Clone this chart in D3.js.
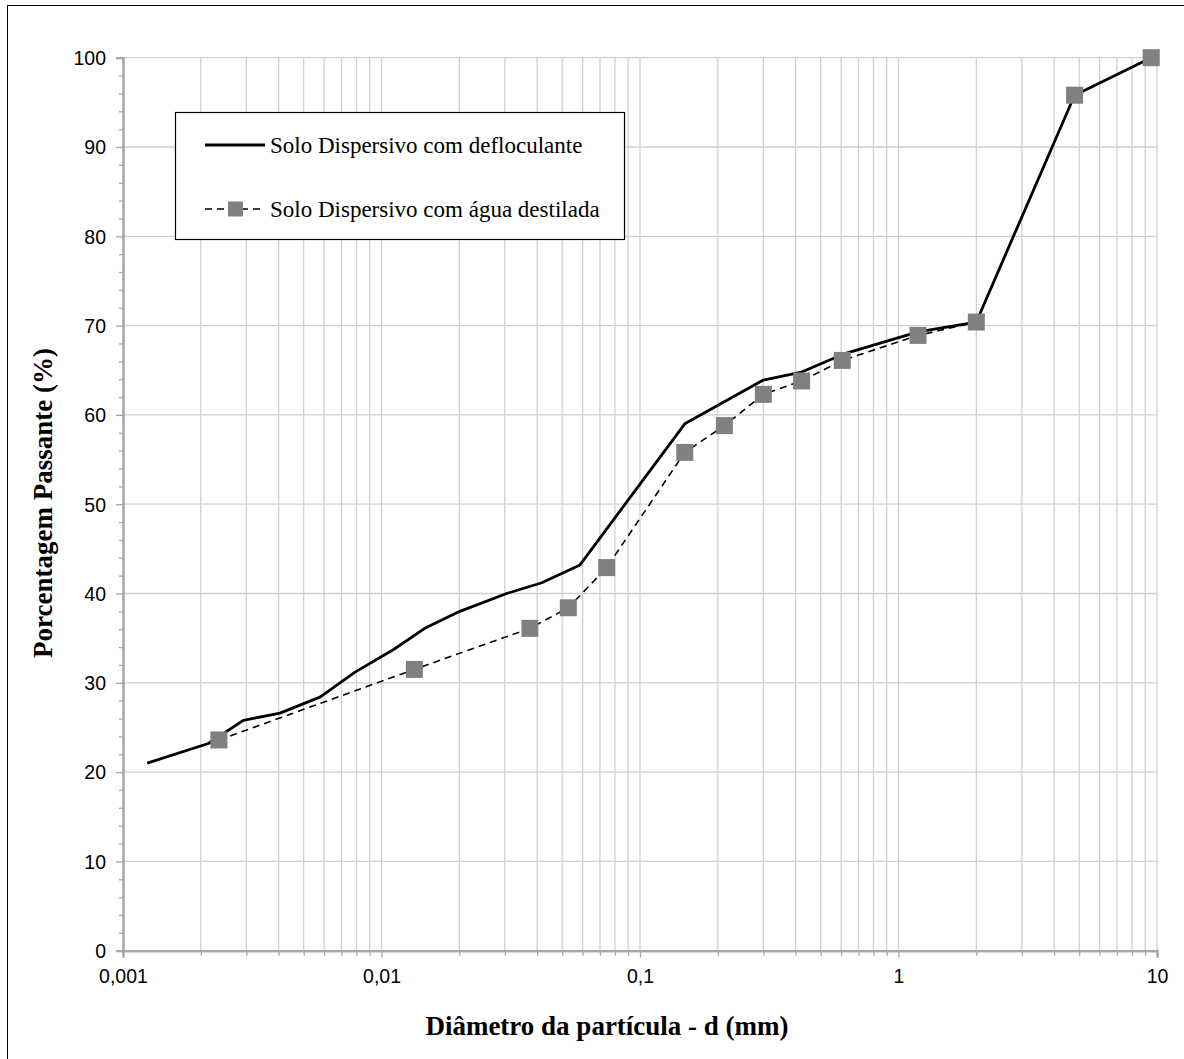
<!DOCTYPE html>
<html>
<head>
<meta charset="utf-8">
<script src="https://cdn.jsdelivr.net/npm/d3@7"></script>
<style>
  html, body { margin: 0; padding: 0; background: #fff; }
  svg { display: block; }
</style>
</head>
<body>
<svg id="chart" width="1184" height="1059"></svg>
<script>
// Grain-size distribution: percent passing vs particle diameter (mm)
const seriesNames = ["Solo Dispersivo com defloculante", "Solo Dispersivo com água destilada"];

// With deflocculant (solid line, no markers)
const deflDiam = [0.00124, 0.00214, 0.00292, 0.00405, 0.00578, 0.0079, 0.0111, 0.0147, 0.0201, 0.0305, 0.0417, 0.0586, 0.149, 0.300, 0.422, 0.611, 1.19, 2.0, 4.8, 9.5];
const deflPass = [21.0, 23.2, 25.8, 26.6, 28.4, 31.2, 33.7, 36.1, 38.0, 40.0, 41.2, 43.2, 59.0, 63.9, 64.8, 66.8, 69.3, 70.4, 95.8, 100];

// With distilled water (dashed line, square markers)
const aguaDiam = [0.00235, 0.0134, 0.0375, 0.0528, 0.0743, 0.149, 0.212, 0.300, 0.422, 0.606, 1.19, 2.0, 4.8, 9.5];
const aguaPass = [23.6, 31.5, 36.1, 38.4, 42.9, 55.8, 58.8, 62.3, 63.8, 66.1, 68.9, 70.4, 95.8, 100];

const xTickValues = [0.001, 0.01, 0.1, 1, 10];
const xTickLabels = ["0,001", "0,01", "0,1", "1", "10"];
const yTickValues = [0, 10, 20, 30, 40, 50, 60, 70, 80, 90, 100];

const svg = d3.select("#chart");
const W = 1184, H = 1059;
const m = { left: 123, right: 1157, top: 57.7, bottom: 950.7 };

// outer frame
svg.append("rect").attr("x", 7.5).attr("y", 5.5).attr("width", W + 10).attr("height", H + 10)
  .attr("fill", "none").attr("stroke", "#000").attr("stroke-width", 1);

const x = d3.scaleLog().domain([0.001, 10]).range([m.left, m.right]);
const y = d3.scaleLinear().domain([0, 100]).range([m.bottom, m.top]);

// minor log positions (2..9 in each decade)
const minorX = [];
for (let e = -3; e < 1; e++) for (let k = 2; k <= 9; k++) minorX.push(k * Math.pow(10, e));
const minorY = d3.range(0, 101, 2).filter(v => v % 10 !== 0);

const grid = svg.append("g");
grid.selectAll("line.vx").data(minorX.concat(xTickValues.slice(1))).join("line")
  .attr("x1", d => x(d)).attr("x2", d => x(d)).attr("y1", m.top).attr("y2", m.bottom)
  .attr("stroke", "#d0d0d0").attr("stroke-width", 1.3);
grid.selectAll("line.hy").data(yTickValues.slice(1)).join("line")
  .attr("x1", m.left).attr("x2", m.right).attr("y1", d => y(d)).attr("y2", d => y(d))
  .attr("stroke", "#d0d0d0").attr("stroke-width", 1.3);

// axes
const axisColor = "#a6a6a6";
const xAxisMajor = d3.axisBottom(x).tickValues(xTickValues).tickSize(7)
  .tickFormat((d, i) => xTickLabels[i]).tickPadding(14);
const gx = svg.append("g").attr("transform", `translate(0,${m.bottom})`).call(xAxisMajor);
const gxm = svg.append("g").attr("transform", `translate(0,${m.bottom})`)
  .call(d3.axisBottom(x).tickValues(minorX).tickSize(5).tickFormat(""));
const gy = svg.append("g").attr("transform", `translate(${m.left},0)`)
  .call(d3.axisLeft(y).tickValues(yTickValues).tickSize(7).tickPadding(10));
const gym = svg.append("g").attr("transform", `translate(${m.left},0)`)
  .call(d3.axisLeft(y).tickValues(minorY).tickSize(4).tickFormat(""));

[gx, gxm, gy, gym].forEach(g => {
  g.select(".domain").attr("stroke", axisColor).attr("stroke-width", 2);
  g.selectAll(".tick line").attr("stroke", axisColor).attr("stroke-width", 1.3);
  g.selectAll("text").attr("fill", "#000").attr("font-family", "Liberation Sans, Arial, sans-serif")
    .attr("font-size", 19.5);
});
gy.selectAll("text").attr("dy", "0.35em");
gx.selectAll("text").attr("dy", "0.6em");

// series lines
const line = d3.line().x(d => x(d[0])).y(d => y(d[1]));
const deflData = deflDiam.map((d, i) => [d, deflPass[i]]);
const aguaData = aguaDiam.map((d, i) => [d, aguaPass[i]]);

svg.append("path").datum(aguaData).attr("d", line)
  .attr("fill", "none").attr("stroke", "#000").attr("stroke-width", 1.6)
  .attr("stroke-dasharray", "7,5");
svg.append("path").datum(deflData).attr("d", line)
  .attr("fill", "none").attr("stroke", "#000").attr("stroke-width", 2.8)
  .attr("stroke-linejoin", "round");

const sq = 17;
svg.selectAll("rect.mk").data(aguaData).join("rect")
  .attr("x", d => x(d[0]) - sq / 2).attr("y", d => y(d[1]) - sq / 2)
  .attr("width", sq).attr("height", sq).attr("fill", "#808080");

// axis titles
svg.append("text").attr("x", 607).attr("y", 1035).attr("text-anchor", "middle")
  .attr("font-family", "Liberation Serif, Times New Roman, serif").attr("font-weight", "bold")
  .attr("font-size", 27).text("Diâmetro da partícula - d (mm)");
svg.append("text").attr("transform", "translate(52,503) rotate(-90)").attr("text-anchor", "middle")
  .attr("font-family", "Liberation Serif, Times New Roman, serif").attr("font-weight", "bold")
  .attr("font-size", 27).text("Porcentagem Passante (%)");

// legend
const lg = svg.append("g");
lg.append("rect").attr("x", 175.5).attr("y", 112.5).attr("width", 449).attr("height", 127)
  .attr("fill", "#fff").attr("stroke", "#000").attr("stroke-width", 1.2);
lg.append("line").attr("x1", 205).attr("x2", 265).attr("y1", 145).attr("y2", 145)
  .attr("stroke", "#000").attr("stroke-width", 2.8);
lg.append("line").attr("x1", 205).attr("x2", 265).attr("y1", 209).attr("y2", 209)
  .attr("stroke", "#000").attr("stroke-width", 1.6).attr("stroke-dasharray", "7,5");
lg.append("rect").attr("x", 235.5 - 7.5).attr("y", 209 - 7.5).attr("width", 15).attr("height", 15)
  .attr("fill", "#808080");
lg.selectAll("text").data(seriesNames).join("text")
  .attr("x", 270).attr("y", (d, i) => 145 + i * 64).attr("dy", "0.33em")
  .attr("font-family", "Liberation Serif, Times New Roman, serif").attr("font-size", 23)
  .attr("fill", "#000").text(d => d);
</script>
</body>
</html>
